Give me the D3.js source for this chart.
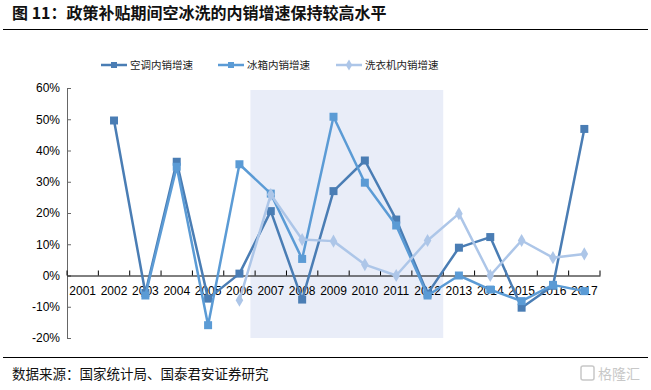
<!DOCTYPE html>
<html>
<head>
<meta charset="utf-8">
<script src="https://cdn.jsdelivr.net/npm/d3@7"></script>
<style>
  body { margin: 0; background: #fff; }
  svg { display: block; }
</style>
</head>
<body>
<script>
// 数据
const years = ["2001","2002","2003","2004","2005","2006","2007","2008","2009",
               "2010","2011","2012","2013","2014","2015","2016","2017"];
const acGrowth     = [null, 49.6, -5.6, 36.4, -7.4, 0.6, 20.6, -7.7, 27.0, 36.8, 17.9, -5.8, 8.9, 12.3, -10.3, -3.3, 46.9];
const fridgeGrowth = [null, null, -6.4, 34.8, -15.9, 35.6, 26.2, 5.3, 50.8, 29.7, 16.0, -6.4, 0.0, -4.5, -8.2, -3.0, -5.0];
const washerGrowth = [null, null, null, null, null, -7.9, 25.9, 11.5, 11.0, 3.5, 0.0, 11.2, 19.8, 0.0, 11.2, 5.7, 6.9];
const yTicks = [-20, -10, 0, 10, 20, 30, 40, 50, 60];
const shadeYears = ["2007", "2012"];

const width = 651, height = 390;
const cjk = "'Noto Sans CJK SC', sans-serif";
const latin = "'Liberation Sans', Arial, sans-serif";

const svg = d3.select("body").append("svg")
    .attr("width", width)
    .attr("height", height);

svg.append("rect").attr("width", width).attr("height", height).attr("fill", "#fff");

// 标题
svg.append("text")
    .attr("x", 12).attr("y", 19)
    .attr("font-family", cjk)
    .attr("font-size", "16px")
    .attr("font-weight", "bold")
    .attr("fill", "#111")
    .text("图 11：政策补贴期间空冰洗的内销增速保持较高水平");

svg.append("line").attr("x1", 3).attr("x2", 648).attr("y1", 29.5).attr("y2", 29.5)
    .attr("stroke", "#000").attr("stroke-width", 1);

const x = d3.scaleBand().domain(years).range([67, 600]);
const y = d3.scaleLinear().domain([-20, 60]).range([338, 88]);
const cx = d => x(d) + x.bandwidth() / 2;

// 阴影区域（政策补贴期间）
svg.append("rect")
    .attr("x", x(shadeYears[0]) - x.bandwidth() * 0.15)
    .attr("y", y(60) + 2)
    .attr("width", x(shadeYears[1]) + x.bandwidth() - (x(shadeYears[0]) - x.bandwidth() * 0.15))
    .attr("height", y(-20) - y(60) - 2)
    .attr("fill", "#e9edf8");

// y 轴
const yAxis = svg.append("g")
    .attr("transform", "translate(67,0)")
    .call(d3.axisLeft(y).tickValues(yTicks).tickSizeInner(-4).tickSizeOuter(0)
        .tickPadding(7).tickFormat(d => d + "%"));
yAxis.select(".domain").attr("stroke", "#666");
yAxis.selectAll(".tick line").attr("stroke", "#666");
yAxis.selectAll("text").attr("font-family", latin).attr("font-size", "12px").attr("fill", "#000");

// x 轴
const xAxis = svg.append("g")
    .attr("transform", `translate(0,${y(0)})`)
    .call(d3.axisBottom(x).tickSize(0).tickPadding(11));
xAxis.select(".domain").attr("stroke", "#000");
xAxis.selectAll("text").attr("font-family", latin).attr("font-size", "12px").attr("fill", "#000");
xAxis.selectAll(".boundary")
    .data(years.map(d => x(d)).concat([x(years[years.length - 1]) + x.bandwidth()]))
    .join("line")
    .attr("x1", d => d).attr("x2", d => d)
    .attr("y1", 0).attr("y2", -5)
    .attr("stroke", "#000");

const series = [
  { name: "空调内销增速",   values: acGrowth,     color: "#4a7db4", shape: d3.symbolSquare },
  { name: "冰箱内销增速",   values: fridgeGrowth, color: "#5b9bd5", shape: d3.symbolSquare },
  { name: "洗衣机内销增速", values: washerGrowth, color: "#adc6e8", shape: d3.symbolDiamond }
];

const line = d3.line()
    .defined(d => d.v !== null)
    .x(d => cx(d.year))
    .y(d => y(d.v));

series.forEach(s => {
  const pts = years.map((yr, i) => ({ year: yr, v: s.values[i] }));
  svg.append("path")
      .datum(pts)
      .attr("d", line)
      .attr("fill", "none")
      .attr("stroke", s.color)
      .attr("stroke-width", 2.5)
      .attr("stroke-linejoin", "round");
  svg.append("g").selectAll("path")
      .data(pts.filter(d => d.v !== null))
      .join("path")
      .attr("transform", d => `translate(${cx(d.year)},${y(d.v)})`)
      .attr("d", d3.symbol().type(s.shape).size(s.shape === d3.symbolSquare ? 64 : 50))
      .attr("fill", s.color);
});

// 图例
const legendX = [101, 218, 336];
const legend = svg.append("g").selectAll("g")
    .data(series)
    .join("g")
    .attr("transform", (d, i) => `translate(${legendX[i]},65)`);
legend.append("line")
    .attr("x1", 0).attr("x2", 26).attr("y1", 0).attr("y2", 0)
    .attr("stroke", d => d.color).attr("stroke-width", 2.5);
legend.append("path")
    .attr("transform", "translate(13,0)")
    .attr("d", d => d3.symbol().type(d.shape).size(36)())
    .attr("fill", d => d.color);
legend.append("text")
    .attr("x", 29).attr("y", 4)
    .attr("font-family", cjk)
    .attr("font-size", "10.5px")
    .attr("fill", "#222")
    .text(d => d.name);

// 底部来源
svg.append("line").attr("x1", 3).attr("x2", 648).attr("y1", 357.5).attr("y2", 357.5)
    .attr("stroke", "#000").attr("stroke-width", 1);
svg.append("text")
    .attr("x", 12).attr("y", 379)
    .attr("font-family", cjk)
    .attr("font-size", "13.5px")
    .attr("fill", "#111")
    .text("数据来源：国家统计局、国泰君安证券研究");

// 水印
svg.append("rect").attr("x", 581).attr("y", 366).attr("width", 13).attr("height", 14).attr("rx", 2)
    .attr("fill", "none").attr("stroke", "#c8c8c8").attr("stroke-width", 1.5);
svg.append("text")
    .attr("x", 598).attr("y", 379)
    .attr("font-family", cjk)
    .attr("font-size", "14px")
    .attr("fill", "#c8c8c8")
    .text("格隆汇");
</script>
</body>
</html>
